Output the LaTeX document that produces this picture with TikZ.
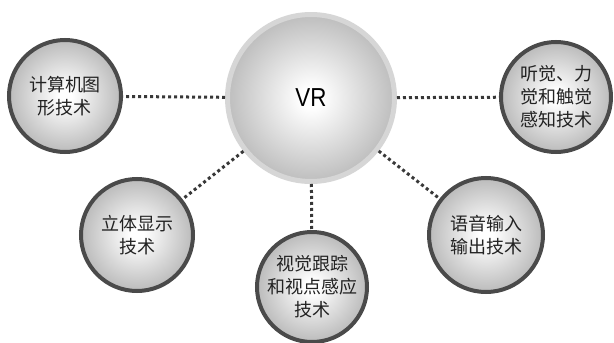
\documentclass[tikz,border=0pt]{standalone}
\usepackage{fontspec}
\newfontfamily\cjk{Noto Sans CJK SC}
\newfontfamily\vrfont{Liberation Sans}[FakeStretch=0.86]
\definecolor{rimdark}{HTML}{4A4A4A}
\definecolor{dotcol}{HTML}{383838}
\definecolor{txtcol}{HTML}{222222}
\definecolor{rimlight}{HTML}{D6D6D6}
\definecolor{edgegray}{HTML}{9C9C9C}
\definecolor{hubgray}{HTML}{A0A0A0}
\pgfdeclareradialshading{subball}{\pgfpoint{0bp}{0bp}}{color(0bp)=(white); color(3bp)=(white); color(35bp)=(edgegray); color(50bp)=(edgegray)}
\pgfdeclareradialshading{hubball}{\pgfpoint{0bp}{0bp}}{color(0bp)=(white); color(3bp)=(white); color(35bp)=(hubgray); color(50bp)=(hubgray)}
\tikzset{
  subnode/.style={circle, inner sep=0pt, minimum size=#1, line width=4pt,
    draw=rimdark, shade, shading=subball,
    font=\cjk\fontsize{18pt}{23pt}\selectfont, text=txtcol, align=center},
  hubnode/.style={circle, inner sep=0pt, minimum size=167pt, line width=5pt,
    draw=rimlight, shade, shading=hubball,
    font=\vrfont\fontsize{26pt}{28pt}\selectfont, text=black},
  dotline/.style={draw=dotcol, line width=3pt, dash pattern=on 3pt off 3pt}
}
\begin{document}
\begin{tikzpicture}[x=1pt,y=-1pt]
\useasboundingbox (0,0) rectangle (614,343);
\fill[white] (0,0) rectangle (614,343);
\node[hubnode] (vr) at (311,98) {VR};
\node[subnode=112pt] (c1) at (65,96) {计算机图\\形技术};
\node[subnode=110pt] (c2) at (556,97) {听觉、力\\觉和触觉\\感知技术};
\node[subnode=112pt] (c3) at (137,235) {立体显示\\技术};
\node[subnode=110pt] (c4) at (312,287) {视觉跟踪\\和视点感应\\技术};
\node[subnode=114pt] (c5) at (486,235) {语音输入\\输出技术};
\draw[dotline] (vr) -- (c1);
\draw[dotline] (vr) -- (c2);
\draw[dotline] (vr) -- (c3);
\draw[dotline] (vr) -- (c4);
\draw[dotline] (vr) -- (c5);
\end{tikzpicture}
\end{document}
